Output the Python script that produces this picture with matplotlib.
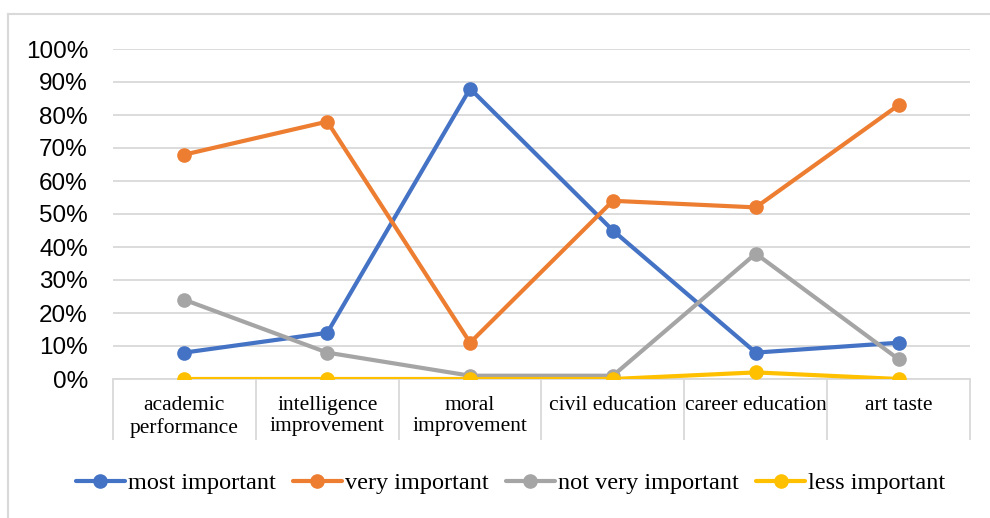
import matplotlib.pyplot as plt
from matplotlib.lines import Line2D
from matplotlib.ticker import PercentFormatter

categories = ["academic\nperformance", "intelligence\nimprovement", "moral\nimprovement",
              "civil education", "career education", "art taste"]
series_names = ["most important", "very important", "not very important", "less important"]
most_important = [8, 14, 88, 45, 8, 11]
very_important = [68, 78, 11, 54, 52, 83]
not_very_important = [24, 8, 1, 1, 38, 6]
less_important = [0, 0, 0, 0, 2, 0]
colors = ["#4472C4", "#ED7D31", "#A5A5A5", "#FFC000"]

fig = plt.figure(figsize=(9.9, 5.18), dpi=100)
ax = fig.add_axes([113 / 990, 1 - 379 / 518, (970 - 113) / 990, (379 - 49) / 518])

# outer frame (only left and top edges visible in the original crop)
fig.add_artist(Line2D([8 / 990, 8 / 990], [0, 1 - 14 / 518], transform=fig.transFigure,
                      color="#d9d9d9", lw=1.5))
fig.add_artist(Line2D([8 / 990, 1], [1 - 14 / 518, 1 - 14 / 518], transform=fig.transFigure,
                      color="#d9d9d9", lw=1.5))

x = list(range(len(categories)))
all_series = [most_important, very_important, not_very_important, less_important]
for vals, name, c in zip(all_series, series_names, colors):
    ax.plot(x, [v / 100 for v in vals], color=c, lw=3, marker="o", ms=9.5,
            label=name, solid_capstyle="round", zorder=3)

ax.set_xlim(-0.5, len(categories) - 0.5)
ax.set_ylim(0, 1)
ax.set_yticks([i / 10 for i in range(11)])
ax.yaxis.set_major_formatter(PercentFormatter(1.0, decimals=0))
ax.grid(axis="y", color="#d9d9d9", lw=1.3)
ax.set_axisbelow(True)

for s in ["top", "right", "left"]:
    ax.spines[s].set_visible(False)
ax.spines["bottom"].set_color("#d9d9d9")
ax.spines["bottom"].set_linewidth(1.3)

ax.tick_params(axis="y", length=0, pad=18, labelsize=17.5, labelfontfamily="Liberation Sans")
ax.set_xticks(x)
ax.set_xticklabels(categories, fontfamily="Liberation Serif", fontsize=15.5, linespacing=1.2)
ax.tick_params(axis="x", which="major", length=0, pad=12)
ax.set_xticks([i - 0.5 for i in range(len(categories) + 1)], minor=True)
ax.tick_params(axis="x", which="minor", length=44, color="#d9d9d9", width=1.3)

leg = fig.legend(loc="center", bbox_to_anchor=(0.516, 1 - 483 / 518), ncol=4, frameon=False,
                 prop={"family": "Liberation Serif", "size": 17.5}, handlelength=2.0,
                 handletextpad=0.15, columnspacing=0.7)

fig.savefig("out.png", dpi=100)
